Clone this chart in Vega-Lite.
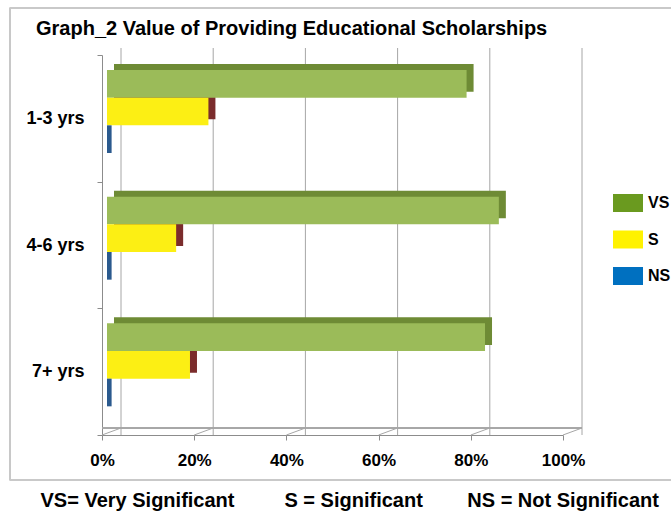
{
  "$schema": "https://vega.github.io/schema/vega-lite/v6.json",
  "width": 461,
  "height": 380,
  "autosize": {"type": "none"},
  "padding": {"left": 102, "top": 55, "right": 108, "bottom": 83},
  "background": "white",
  "config": {
    "view": {"stroke": null},
    "font": "Liberation Sans"
  },
  "title": {
    "text": "Graph_2  Value of Providing Educational Scholarships",
    "anchor": "start",
    "frame": "group",
    "dx": -66,
    "offset": -48,
    "baseline": "alphabetic",
    "font": "Liberation Sans",
    "fontSize": 20,
    "fontWeight": "bold",
    "color": "#000000"
  },
  "datasets": {
    "bars": [
      {"group": "1-3 yrs", "series": "VS", "value": 78},
      {"group": "1-3 yrs", "series": "S", "value": 22},
      {"group": "1-3 yrs", "series": "NS", "value": 1},
      {"group": "4-6 yrs", "series": "VS", "value": 85},
      {"group": "4-6 yrs", "series": "S", "value": 15},
      {"group": "4-6 yrs", "series": "NS", "value": 1},
      {"group": "7+ yrs", "series": "VS", "value": 82},
      {"group": "7+ yrs", "series": "S", "value": 18},
      {"group": "7+ yrs", "series": "NS", "value": 1}
    ],
    "ticks": [{"v": 0}, {"v": 20}, {"v": 40}, {"v": 60}, {"v": 80}, {"v": 100}]
  },
  "layer": [
    {
      "data": {"name": "ticks"},
      "mark": {"type": "rule", "xOffset": 19, "yOffset": -7, "color": "#A6A6A6", "strokeWidth": 1},
      "encoding": {
        "x": {"field": "v", "type": "quantitative", "scale": {"domain": [0, 100]}}
      }
    },
    {
      "data": {"name": "ticks"},
      "mark": {"type": "rule", "xOffset": 19, "yOffset": -7, "color": "#A6A6A6", "strokeWidth": 1},
      "encoding": {
        "y": {"datum": "7+ yrs", "type": "nominal", "bandPosition": 1}
      }
    },
    {
      "data": {"name": "ticks"},
      "mark": {"type": "rule", "x2Offset": 19, "y2Offset": -7, "color": "#A6A6A6", "strokeWidth": 1},
      "encoding": {
        "x": {"field": "v", "type": "quantitative"},
        "x2": {"field": "v"},
        "y": {"datum": "7+ yrs", "type": "nominal", "bandPosition": 1},
        "y2": {"datum": "7+ yrs", "bandPosition": 1}
      }
    },
    {
      "data": {"name": "ticks"},
      "mark": {"type": "rule", "yOffset": 45, "color": "#C8C8C8", "strokeWidth": 1.5},
      "encoding": {
        "x": {"datum": -20, "type": "quantitative"},
        "x2": {"datum": 125},
        "y": {"datum": "7+ yrs", "type": "nominal", "bandPosition": 1}
      }
    },
    {
      "data": {"name": "ticks"},
      "mark": {"type": "rule", "yOffset": -47, "color": "#C8C8C8", "strokeWidth": 1.5},
      "encoding": {
        "x": {"datum": -20, "type": "quantitative"},
        "x2": {"datum": 125},
        "y": {"datum": "1-3 yrs", "type": "nominal", "bandPosition": 0}
      }
    },
    {
      "data": {"name": "ticks"},
      "mark": {"type": "rule", "yOffset": -47, "y2Offset": 45, "color": "#C8C8C8", "strokeWidth": 1.5},
      "encoding": {
        "x": {"datum": -20, "type": "quantitative"},
        "y": {"datum": "1-3 yrs", "type": "nominal", "bandPosition": 0},
        "y2": {"datum": "7+ yrs", "bandPosition": 1}
      }
    },
    {
      "data": {"name": "bars"},
      "mark": {"type": "bar", "xOffset": 12},
      "encoding": {
        "y": {"field": "group", "type": "nominal", "sort": ["1-3 yrs", "4-6 yrs", "7+ yrs"],
              "scale": {"paddingInner": 0, "paddingOuter": 0}},
        "yOffset": {"field": "series", "type": "nominal", "sort": ["VS", "S", "NS"],
                    "scale": {"domain": ["VS", "S", "NS"], "range": [9, 92], "paddingInner": 0, "paddingOuter": 0}},
        "x": {"field": "value", "type": "quantitative", "scale": {"domain": [0, 100]}},
        "color": {"field": "series", "type": "nominal", "legend": null,
                  "scale": {"domain": ["VS", "S", "NS"], "range": ["#6E8B35", "#7B2C2C", "transparent"]}}
      }
    },
    {
      "data": {"name": "bars"},
      "mark": {"type": "bar", "xOffset": 5},
      "encoding": {
        "y": {"field": "group", "type": "nominal", "sort": ["1-3 yrs", "4-6 yrs", "7+ yrs"],
              "scale": {"paddingInner": 0, "paddingOuter": 0},
              "axis": {"title": null, "tickBand": "extent", "domainColor": "#8C8C8C", "tickColor": "#8C8C8C",
                       "tickSize": 5, "labelPadding": 13, "labelFont": "Liberation Sans",
                       "labelFontSize": 18, "labelFontWeight": "bold", "labelColor": "#000000"}},
        "yOffset": {"field": "series", "type": "nominal", "sort": ["VS", "S", "NS"],
                    "scale": {"domain": ["VS", "S", "NS"], "range": [15, 98], "paddingInner": 0, "paddingOuter": 0}},
        "x": {"field": "value", "type": "quantitative", "scale": {"domain": [0, 100]},
              "axis": {"values": [0, 20, 40, 60, 80, 100], "labelExpr": "datum.value + '%'",
                       "labelFlush": false,
                       "grid": false, "domainColor": "#8C8C8C", "tickColor": "#8C8C8C", "tickSize": 5,
                       "labelPadding": 12, "labelFont": "Liberation Sans", "labelFontSize": 17,
                       "labelFontWeight": "bold", "labelColor": "#000000",
                       "title": "VS= Very Significant\u00a0\u00a0\u00a0\u00a0\u00a0\u00a0\u00a0\u00a0\u00a0S = Significant\u00a0\u00a0\u00a0\u00a0\u00a0\u00a0\u00a0\u00a0NS = Not Significant",
                       "titleX": -62, "titleY": 71, "titleAlign": "left", "titleAnchor": "start",
                       "titleBaseline": "alphabetic", "titleFont": "Liberation Sans",
                       "titleFontSize": 20, "titleFontWeight": "bold", "titleColor": "#000000"}},
        "color": {"field": "series", "type": "nominal", "legend": null,
                  "scale": {"domain": ["VS", "S", "NS"], "range": ["#9BBB59", "#FCEF14", "#2B5A8E"]}}
      }
    },
    {
      "data": {"name": "bars"},
      "transform": [{"filter": "false"}],
      "mark": {"type": "square", "opacity": 1, "filled": true},
      "encoding": {
        "y": {"field": "group", "type": "nominal"},
        "x": {"field": "value", "type": "quantitative"},
        "color": {"field": "series", "type": "nominal",
                  "scale": {"domain": ["VS", "S", "NS"], "range": ["#6A9A1F", "#FFF200", "#0070C0"]},
                  "legend": {"title": null, "orient": "none", "legendX": 511, "legendY": 133,
                             "symbolType": "M-1,-0.6H1V0.6H-1Z", "symbolSize": 900,
                             "symbolStrokeWidth": 0, "symbolOpacity": 1, "rowPadding": 12.5, "labelOffset": 5,
                             "labelFont": "Liberation Sans", "labelFontSize": 16,
                             "labelFontWeight": "bold", "labelColor": "#000000", "padding": 0,
                             "labelLimit": 0}}
      }
    }
  ],
  "resolve": {"scale": {"color": "independent", "yOffset": "independent"}}
}
